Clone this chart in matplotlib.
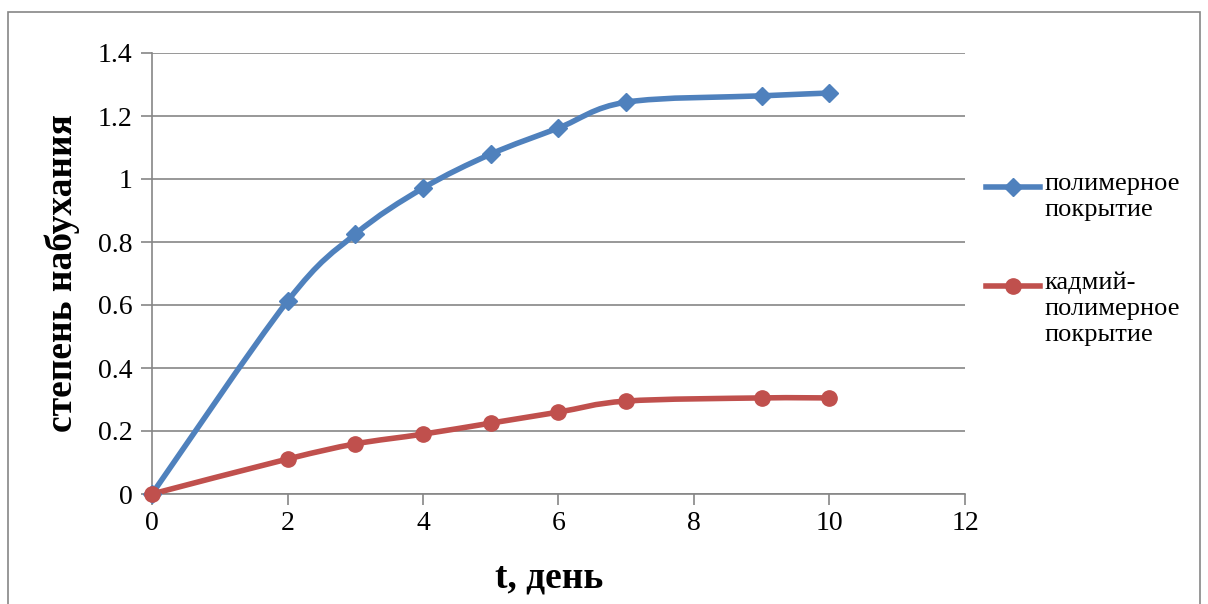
import matplotlib.pyplot as plt
from matplotlib.path import Path
from matplotlib.patches import PathPatch, Rectangle
from matplotlib.lines import Line2D

plt.rcParams['font.family'] = ['Liberation Serif', 'DejaVu Serif']

# data
days = [0, 2, 3, 4, 5, 6, 7, 9, 10]
polymer = [0, 0.612, 0.825, 0.971, 1.079, 1.162, 1.244, 1.264, 1.273]
cadmium = [0, 0.111, 0.159, 0.190, 0.225, 0.260, 0.295, 0.305, 0.305]

labels = ['полимерное\nпокрытие', 'кадмий-\nполимерное\nпокрытие']
colors = ['#4F81BD', '#C0504D']
markers = ['D', 'o']
msizes = [9.5, 11]


def smooth_path(xs, ys):
    '''
    Bezier path through the points, like Excel's smoothed line
    '''
    pts = list(zip(xs, ys))
    n = len(pts)
    verts = [pts[0]]
    codes = [Path.MOVETO]
    for i in range(n - 1):
        p0 = pts[i - 1] if i > 0 else pts[i]
        p1 = pts[i]
        p2 = pts[i + 1]
        p3 = pts[i + 2] if i + 2 < n else pts[i + 1]
        c1 = (p1[0] + (p2[0] - p0[0]) / 6, p1[1] + (p2[1] - p0[1]) / 6)
        c2 = (p2[0] - (p3[0] - p1[0]) / 6, p2[1] - (p3[1] - p1[1]) / 6)
        verts += [c1, c2, p2]
        codes += [Path.CURVE4] * 3
    return Path(verts, codes)


fig = plt.figure(figsize=(12.08, 6.04), dpi=100)
ax = fig.add_axes([152 / 1208, 1 - 494 / 604, (965 - 152) / 1208, (494 - 53) / 604])

# outer chart frame
fig.add_artist(Rectangle((8 / 1208, -0.05), 1192 / 1208, 1.05 - 12 / 604,
                         transform=fig.transFigure, fill=False,
                         edgecolor='#868686', lw=1.2))

for ys, c, m, ms in zip([polymer, cadmium], colors, markers, msizes):
    ax.add_patch(PathPatch(smooth_path(days, ys), fill=False, edgecolor=c,
                           lw=4, capstyle='round', zorder=3))
    ax.plot(days, ys, linestyle='none', marker=m, ms=ms, color=c, zorder=4,
            clip_on=False)

ax.set_xlim(0, 12)
ax.set_ylim(0, 1.4)
ax.set_xticks(range(0, 13, 2))
ax.set_yticks([0, 0.2, 0.4, 0.6, 0.8, 1.0, 1.2, 1.4])
ax.set_yticklabels(['0', '0.2', '0.4', '0.6', '0.8', '1', '1.2', '1.4'])
ax.yaxis.grid(True, color='#868686', lw=1.2)
ax.set_axisbelow(True)
for s in ['top', 'right']:
    ax.spines[s].set_visible(False)
for s in ['left', 'bottom']:
    ax.spines[s].set_color('#868686')
    ax.spines[s].set_linewidth(1.2)
ax.tick_params(axis='both', colors='#868686', width=1.2, length=8,
               labelcolor='black', labelsize=20)
ax.tick_params(axis='y', pad=6)
ax.tick_params(axis='x', pad=4)

ax.set_ylabel('степень набухания', fontsize=27, fontweight='bold', va='center')
ax.yaxis.set_label_coords((62 - 152) / 813, 0.5)
ax.set_xlabel('t, день', fontsize=27, fontweight='bold', va='center')
ax.xaxis.set_label_coords((549 - 152) / 813, (494 - 578) / 441)

# legend drawn by hand so the handle sits on the first text line
leg_y = [1 - 187 / 604, 1 - 286 / 604]
for y, lab, c, m, ms in zip(leg_y, labels, colors, markers, msizes):
    fig.add_artist(Line2D([986 / 1208, 1040 / 1208], [y, y], color=c, lw=4,
                          transform=fig.transFigure))
    fig.add_artist(Line2D([1013 / 1208], [y], color=c, marker=m, ms=ms,
                          linestyle='none', transform=fig.transFigure))
    fig.text(1044 / 1208, y + 14 / 604, lab, fontsize=19, va='top',
             ha='left', linespacing=1.22)

fig.savefig('out.png', dpi=100)
